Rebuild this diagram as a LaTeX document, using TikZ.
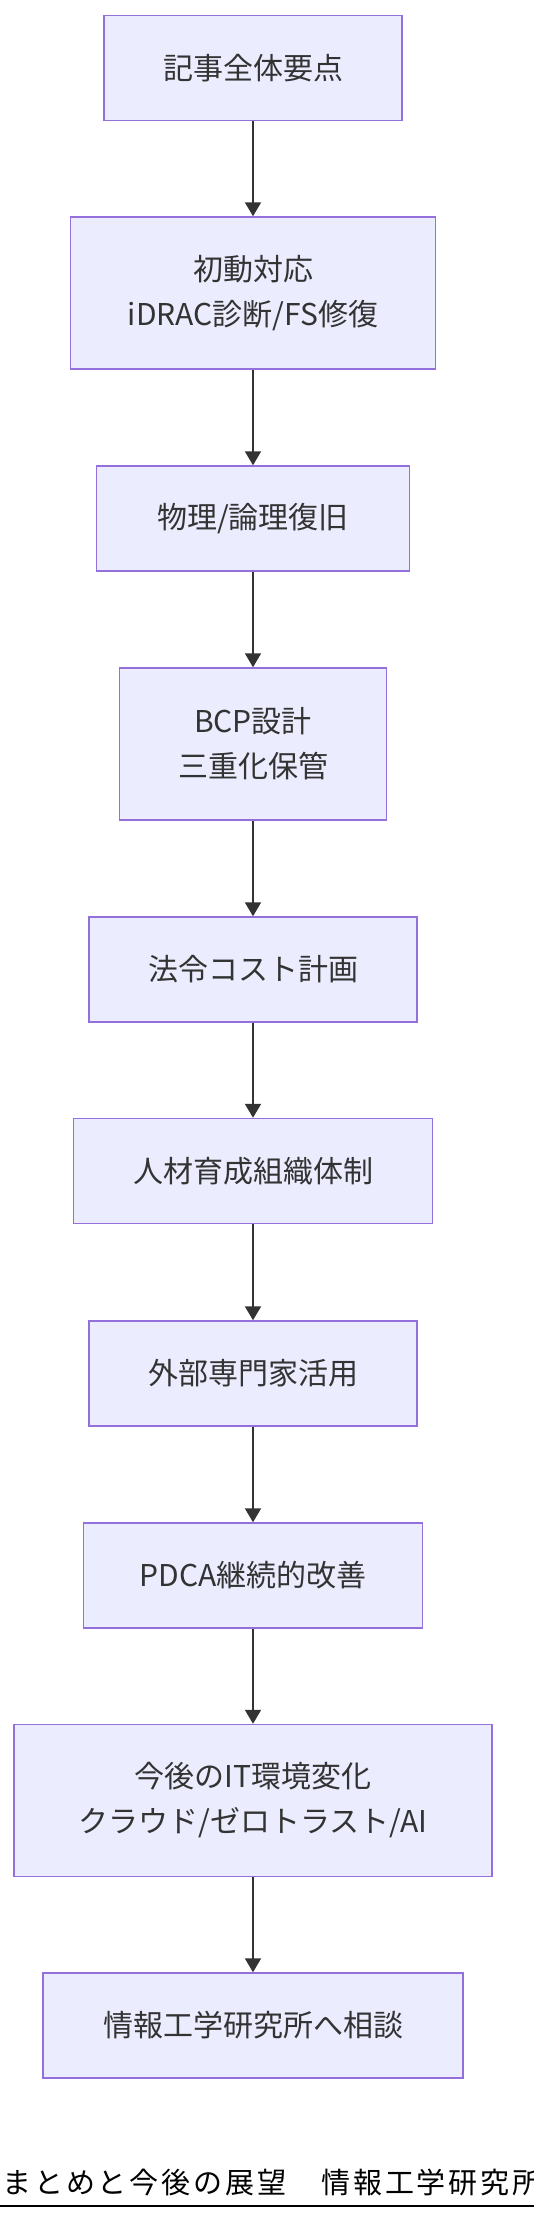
\documentclass[tikz,border=0pt]{standalone}
\usepackage{fontspec}
\setmainfont{Noto Sans CJK JP}
\newfontfamily\titlefont{Noto Sans CJK JP}[LetterSpace=10]
\definecolor{boxfill}{HTML}{ECECFF}
\definecolor{boxline}{HTML}{9370DB}
\definecolor{ink}{HTML}{333333}
\usetikzlibrary{arrows.meta}
\tikzset{
  stepbox/.style={draw=boxline, fill=boxfill, line width=1.5pt, text=ink,
    font=\fontsize{30}{45}\selectfont, align=center, inner sep=0pt,
    minimum height=105pt},
  twoline/.style={stepbox, minimum height=152pt},
  flow/.style={draw=ink, line width=2pt, -{Triangle[length=14pt,width=16pt]}}
}

\begin{document}
\begin{tikzpicture}[x=1pt, y=-1pt]
  \useasboundingbox (0,0) rectangle (534,2220);

  % steps, top to bottom
  \node[stepbox, minimum width=298pt] (summary) at (253,68) {記事全体要点};
  \node[twoline, minimum width=365pt] (initial) at (253,293) {初動対応\\iDRAC診断/FS修復};
  \node[stepbox, minimum width=313pt] (recovery) at (253,518.5) {物理/論理復旧};
  \node[twoline, minimum width=267pt] (bcp) at (253,744) {BCP設計\\三重化保管};
  \node[stepbox, minimum width=328pt] (legal) at (253,969.5) {法令コスト計画};
  \node[stepbox, minimum width=359pt] (talent) at (253,1171) {人材育成組織体制};
  \node[stepbox, minimum width=328pt] (expert) at (253,1373.5) {外部専門家活用};
  \node[stepbox, minimum width=339pt] (pdca) at (253,1575.5) {PDCA継続的改善};
  \node[twoline, minimum width=478pt] (future) at (253,1800.5) {今後のIT環境変化\\クラウド/ゼロトラスト/AI};
  \node[stepbox, minimum width=420pt] (consult) at (253,2025.5) {情報工学研究所へ相談};

  % connectors
  \draw[flow] (summary) -- (initial);
  \draw[flow] (initial) -- (recovery);
  \draw[flow] (recovery) -- (bcp);
  \draw[flow] (bcp) -- (legal);
  \draw[flow] (legal) -- (talent);
  \draw[flow] (talent) -- (expert);
  \draw[flow] (expert) -- (pdca);
  \draw[flow] (pdca) -- (future);
  \draw[flow] (future) -- (consult);

  % title with underline
  \node[anchor=base west, inner sep=0pt, text=black, font=\fontsize{29}{29}\titlefont] (title) at (2,2193) {まとめと今後の展望　情報工学研究所};
  \draw[line width=2pt] (0,2206) -- (534,2206);
\end{tikzpicture}
\end{document}
